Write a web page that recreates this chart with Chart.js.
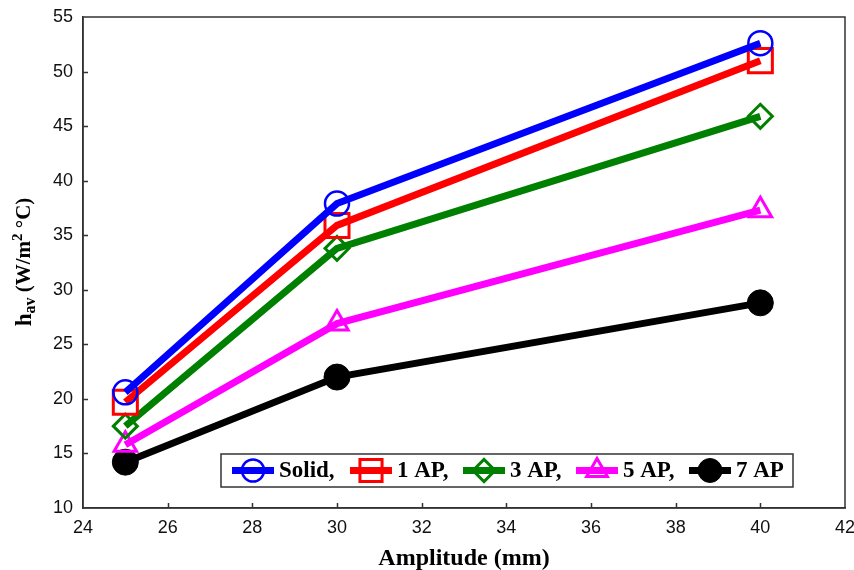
<!DOCTYPE html>
<html>
<head>
<meta charset="utf-8">
<script src="https://cdn.jsdelivr.net/npm/chart.js@4/dist/chart.umd.min.js"></script>
<style>
  html, body { margin: 0; padding: 0; background: #fff; }
  #wrap { width: 854px; height: 570px; }
</style>
</head>
<body>
<div id="wrap"><canvas id="grafico" width="854" height="570"></canvas></div>
<script>
const amplitude = [25, 30, 40]
const seriesNames = ["Solid,", "1 AP,", "3 AP,", "5 AP,", "7 AP"]
const solid = [20.6, 37.9, 52.6]
const ap1 = [19.7, 35.9, 51.0]
const ap3 = [17.5, 33.8, 45.9]
const ap5 = [15.8, 26.9, 37.3]
const ap7 = [14.2, 22.0, 28.8]
const xTicks = [24, 26, 28, 30, 32, 34, 36, 38, 40, 42]
const yTicks = [10, 15, 20, 25, 30, 35, 40, 45, 50, 55]

const estilos = [
    { cor: "#0000ff", ponto: "circle", raio: 12, fill: "rgba(0,0,0,0)", borda: 2.5 },
    { cor: "#ff0000", ponto: "rect", raio: 17, fill: "rgba(0,0,0,0)", borda: 3 },
    { cor: "#008000", ponto: "rectRot", raio: 12, fill: "rgba(0,0,0,0)", borda: 3 },
    { cor: "#ff00ff", ponto: "triangle", raio: 13, fill: "rgba(0,0,0,0)", borda: 3 },
    { cor: "#000000", ponto: "circle", raio: 13, fill: "#000000", borda: 1 }
]
const valores = [solid, ap1, ap3, ap5, ap7]

const datasets = valores.map((serie, i) => ({
    label: seriesNames[i],
    data: serie.map((v, j) => ({ x: amplitude[j], y: v })),
    borderColor: estilos[i].cor,
    borderWidth: 7,
    pointStyle: estilos[i].ponto,
    pointRadius: estilos[i].raio,
    pointHoverRadius: estilos[i].raio,
    pointBackgroundColor: estilos[i].fill,
    pointBorderColor: estilos[i].cor,
    pointBorderWidth: estilos[i].borda,
    tension: 0,
    fill: false,
    clip: false
}))

// frame, inward ticks, y title with sub/superscript, legend inside the plot
const moldura = {
    id: "moldura",
    afterDraw(chart) {
        const ctx = chart.ctx
        const a = chart.chartArea
        const sx = chart.scales.x
        const sy = chart.scales.y
        ctx.save()
        ctx.strokeStyle = "#333"
        ctx.lineWidth = 1.5
        ctx.strokeRect(a.left, a.top, a.right - a.left, a.bottom - a.top)
        ctx.beginPath()
        xTicks.slice(1, -1).forEach(t => {
            const px = Math.round(sx.getPixelForValue(t)) + 0.5
            ctx.moveTo(px, a.bottom)
            ctx.lineTo(px, a.bottom - 5)
        })
        yTicks.slice(1, -1).forEach(t => {
            const py = Math.round(sy.getPixelForValue(t)) + 0.5
            ctx.moveTo(a.left, py)
            ctx.lineTo(a.left + 5, py)
        })
        ctx.stroke()

        // y axis title
        ctx.translate(25, 262)
        ctx.rotate(-Math.PI / 2)
        ctx.fillStyle = "#000"
        ctx.textBaseline = "middle"
        const partes = [
            { t: "h", f: "bold 23px 'Liberation Serif'", dy: 0 },
            { t: "av", f: "bold 16px 'Liberation Serif'", dy: 6 },
            { t: " (W/m", f: "bold 21px 'Liberation Serif'", dy: 0 },
            { t: "2", f: "bold 15px 'Liberation Serif'", dy: -7 },
            { t: " \u00b0C)", f: "bold 21px 'Liberation Serif'", dy: 0 }
        ]
        let total = 0
        partes.forEach(p => { ctx.font = p.f; total += ctx.measureText(p.t).width })
        let x = -total / 2
        partes.forEach(p => {
            ctx.font = p.f
            ctx.fillText(p.t, x, p.dy)
            x += ctx.measureText(p.t).width
        })
        ctx.restore()

        // legend
        ctx.save()
        const lx = 221, ly = 454, lw = 572, lh = 33
        ctx.fillStyle = "#fff"
        ctx.fillRect(lx, ly, lw, lh)
        ctx.strokeStyle = "#333"
        ctx.lineWidth = 1.5
        ctx.strokeRect(lx, ly, lw, lh)
        const cy = ly + lh / 2
        const inicio = [232, 350, 463, 576, 689]
        chart.data.datasets.forEach((ds, i) => {
            const x0 = inicio[i]
            ctx.strokeStyle = ds.borderColor
            ctx.lineWidth = 7
            ctx.beginPath()
            ctx.moveTo(x0, cy)
            ctx.lineTo(x0 + 42, cy)
            ctx.stroke()
            ctx.fillStyle = ds.pointBackgroundColor
            ctx.strokeStyle = ds.pointBorderColor
            ctx.lineWidth = ds.pointBorderWidth
            Chart.helpers.drawPoint(ctx, {
                pointStyle: ds.pointStyle,
                radius: ds.pointRadius * 0.92,
                rotation: 0,
                borderWidth: ds.pointBorderWidth
            }, x0 + 21, cy)
            ctx.fillStyle = "#000"
            ctx.font = "bold 23px 'Liberation Serif'"
            ctx.textBaseline = "middle"
            ctx.fillText(ds.label, x0 + 47, cy + 1)
        })
        ctx.restore()
    }
}

const ctx = document.getElementById("grafico")

new Chart(ctx, {
    type: "line",
    data: { datasets },
    options: {
        responsive: false,
        animation: false,
        events: [],
        layout: { autoPadding: false, padding: { top: 17, right: 9, left: 0, bottom: 0 } },
        plugins: { legend: { display: false }, tooltip: { enabled: false } },
        scales: {
            x: {
                type: "linear",
                min: 24,
                max: 42,
                afterBuildTicks: s => { s.ticks = xTicks.map(v => ({ value: v })) },
                grid: { display: false, drawTicks: false },
                border: { display: true, color: "#333", width: 1.5 },
                ticks: { color: "#111", font: { family: "'Liberation Sans'", size: 18 }, padding: 9 },
                title: {
                    display: true,
                    text: "Amplitude (mm)",
                    color: "#000",
                    font: { family: "'Liberation Serif'", size: 24, weight: "bold" },
                    padding: { top: 4, bottom: -3 }
                },
                afterFit: s => { s.height = 62; s.paddingRight = 0; s.paddingLeft = 0 }
            },
            y: {
                min: 10,
                max: 55,
                afterBuildTicks: s => { s.ticks = yTicks.map(v => ({ value: v })) },
                grid: { display: false, drawTicks: false },
                border: { display: true, color: "#333", width: 1.5 },
                ticks: { color: "#111", font: { family: "'Liberation Sans'", size: 18 }, padding: 10 },
                afterFit: s => { s.width = 83; s.paddingTop = 0; s.paddingBottom = 0 }
            }
        }
    },
    plugins: [moldura]
})
</script>
</body>
</html>
